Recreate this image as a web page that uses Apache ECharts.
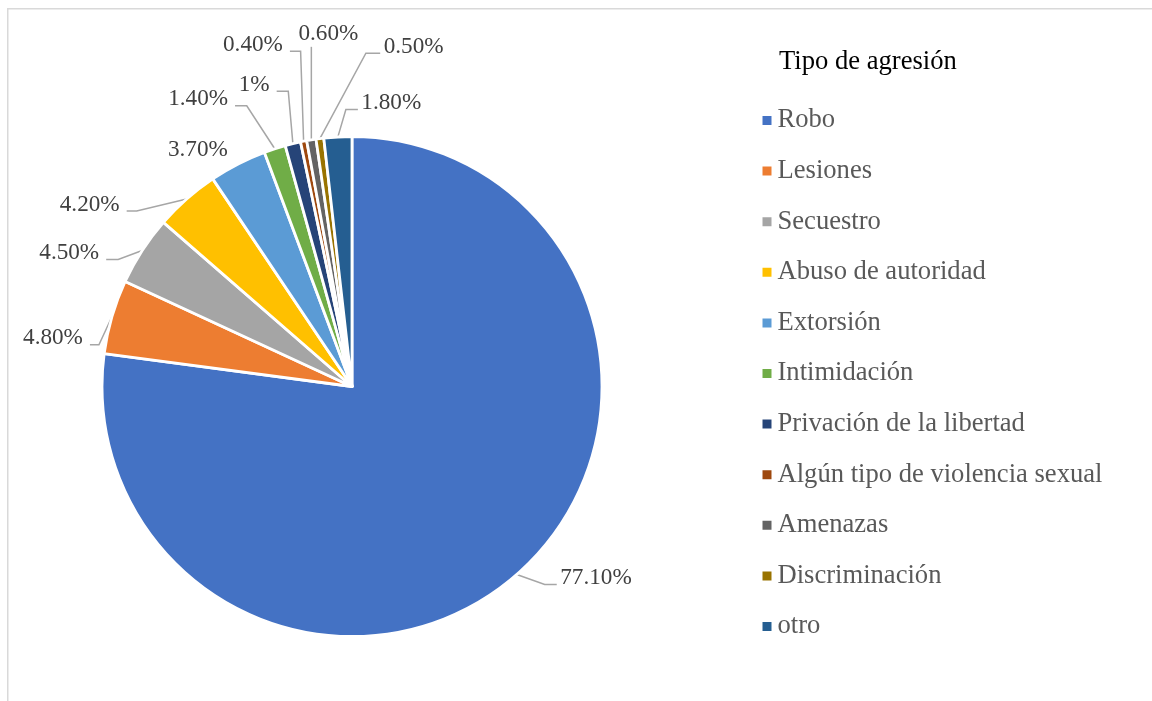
<!DOCTYPE html>
<html>
<head>
<meta charset="utf-8">
<style>
  html, body { margin: 0; padding: 0; background: #ffffff; }
  #chart { width: 1152px; height: 701px; }
</style>
<script src="https://cdn.jsdelivr.net/npm/echarts@6/dist/echarts.min.js"></script>
</head>
<body>
<div id="chart"></div>
<script>
// Tipos de agresión y su porcentaje
const categories = [
  'Robo', 'Lesiones', 'Secuestro', 'Abuso de autoridad', 'Extorsión', 'Intimidación',
  'Privación de la libertad', 'Algún tipo de violencia sexual', 'Amenazas',
  'Discriminación', 'otro'
];
const percentages = [77.1, 4.8, 4.5, 4.2, 3.7, 1.4, 1, 0.4, 0.6, 0.5, 1.8];
const valueLabels = ['77.10%', '4.80%', '4.50%', '4.20%', '3.70%', '1.40%', '1%', '0.40%', '0.60%', '0.50%', '1.80%'];

const palette = ['#4472C4', '#ED7D31', '#A5A5A5', '#FFC000', '#5B9BD5', '#70AD47',
                 '#264478', '#9E480E', '#636363', '#997300', '#255E91'];

// Leader routing: bend offset from the slice's rim point, then a horizontal tail
// (negative = to the left). 'none' draws no leader, 'over' puts the label above a straight leader.
const leaderBend = [[28, 10], [-13, 28], [-24, 9], [-50, 12], [-10, -14], [-28, -43],
                    [-4.6, -52.4], [-3, -90], [0, -93], [46, -85.4], [8, -27.4]];
const leaderTail = [12, -9, -12, -10, 0, -11.7, -11.6, -10.7, 0, 14.3, 12];
const leaderKind = ['tail', 'tail', 'tail', 'tail', 'none', 'tail', 'tail', 'tail', 'over', 'tail', 'tail'];

const serif = "'Times New Roman', 'Liberation Serif', serif";
const chart = echarts.init(document.getElementById('chart'), null, { renderer: 'canvas' });

const pieData = categories.map((name, i) => ({
  name: name,
  value: percentages[i],
  itemStyle: { color: palette[i] }
}));

chart.setOption({
  animation: false,
  backgroundColor: '#ffffff',
  title: {
    text: 'Tipo de agresión',
    left: 779,
    top: 49,
    padding: 0,
    textStyle: { fontFamily: serif, fontSize: 26.6, fontWeight: 'normal', color: '#000000', lineHeight: 26 }
  },
  legend: {
    orient: 'vertical',
    left: 760.5,
    top: 105.5,
    padding: 0,
    itemWidth: 11,
    itemHeight: 11,
    itemGap: 20.6,
    icon: 'rect',
    selectedMode: false,
    data: categories,
    textStyle: { fontFamily: serif, fontSize: 26.6, color: '#595959', lineHeight: 30 }
  },
  graphic: [{
    type: 'rect',
    silent: true,
    shape: { x: 7.75, y: 8.75, width: 1300, height: 900 },
    style: { fill: 'none', stroke: '#d9d9d9', lineWidth: 1.5 }
  }],
  series: [{
    type: 'pie',
    center: [352, 386.5],
    radius: 250,
    startAngle: 90,
    clockwise: true,
    avoidLabelOverlap: false,
    data: pieData,
    itemStyle: { borderColor: '#ffffff', borderWidth: 2.8 },
    emphasis: { disabled: true },
    label: {
      show: true,
      position: 'outside',
      formatter: p => valueLabels[p.dataIndex],
      fontFamily: serif,
      fontSize: 23.2,
      color: '#404040'
    },
    labelLine: {
      show: true,
      length: 15,
      length2: 10,
      lineStyle: { color: '#a6a6a6', width: 1.5 }
    },
    labelLayout: function (p) {
      const i = p.dataIndex;
      const rim = p.labelLinePoints[0];
      const bx = rim[0] + leaderBend[i][0];
      const by = rim[1] + leaderBend[i][1];
      const kind = leaderKind[i];
      if (kind === 'none') {
        return { x: bx, y: by, align: 'right', verticalAlign: 'middle',
                 labelLinePoints: [rim, rim, rim] };
      }
      if (kind === 'over') {
        return { x: bx + 17, y: by - 13, align: 'center', verticalAlign: 'middle',
                 labelLinePoints: [rim, [bx, by], [bx, by]] };
      }
      const tx = bx + leaderTail[i];
      const left = leaderTail[i] < 0;
      return {
        x: tx + (left ? -7 : 3.5),
        y: by - 6.5,
        align: left ? 'right' : 'left',
        verticalAlign: 'middle',
        labelLinePoints: [rim, [bx, by], [tx, by]]
      };
    }
  }]
});
</script>
</body>
</html>
